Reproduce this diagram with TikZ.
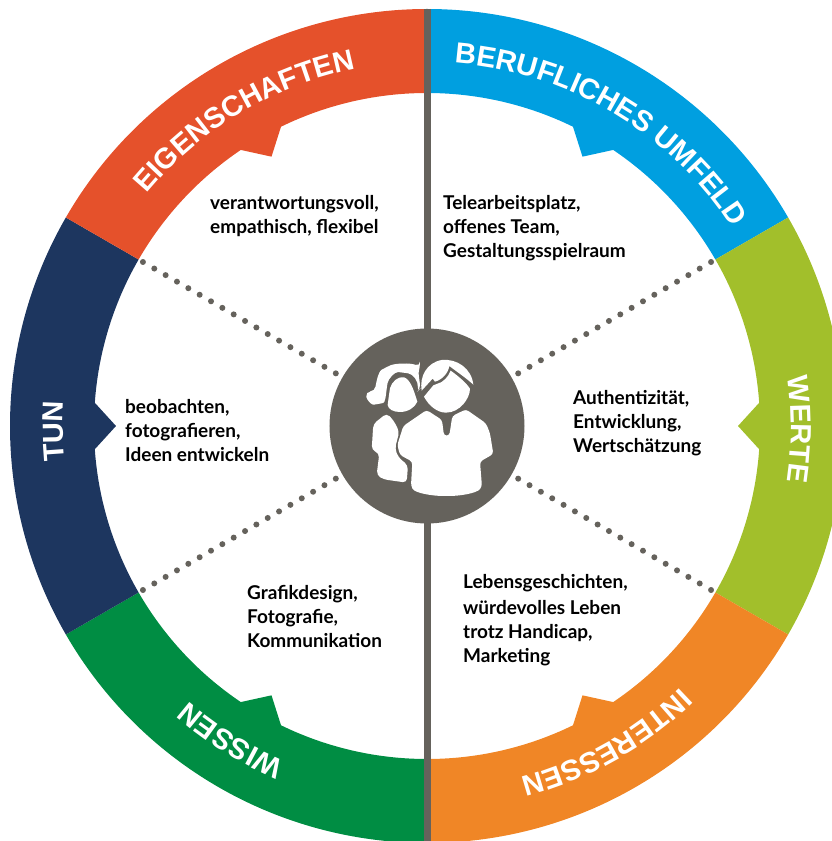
\documentclass[tikz,border=0pt]{standalone}
\usepackage{fontspec}
\setmainfont{Lato}
\newfontfamily\ringfont{Liberation Sans}[Scale=1]
\usetikzlibrary{decorations.text,calc}
\definecolor{cred}{HTML}{E5512B}
\definecolor{cblue}{HTML}{009FE0}
\definecolor{clime}{HTML}{A2BF2B}
\definecolor{corange}{HTML}{F08626}
\definecolor{cgreen}{HTML}{008D43}
\definecolor{cnavy}{HTML}{1D365F}
\definecolor{cgray}{HTML}{65625C}
\tikzset{
  notetext/.style={align=left,anchor=north west,inner sep=0pt,font=\fontsize{19}{24}\selectfont\bfseries,text=black},
  dotline/.style={cgray,line width=6pt,line cap=round,dash pattern=on 0pt off 13.1pt},
  spoke/.style={cgray,line width=6.6pt},
  iconwhite/.style={fill=white,draw=none},
}
\newcommand{\ringlabel}[3]{%
  \path[decorate,decoration={text along path,text align=center,
    text={|\ringfont\bfseries\fontsize{29}{29}\selectfont\color{white}|#1}}]
    (#2:364pt) arc[start angle=#2,end angle=#3,radius=364pt];}
\begin{document}
\begin{tikzpicture}[x=1pt,y=1pt]
\useasboundingbox (-427,-415) rectangle (405,426);
\clip (-427,-415) rectangle (405,426);
% ring segments: centre angle / colour
\foreach \ang/\col in {60/cblue,0/clime,-60/corange,-120/cgreen,180/cnavy,120/cred}{
  \fill[\col] (\ang+30:417) arc[start angle=\ang+30,end angle=\ang-30,radius=417]
    -- (\ang-30:333) arc[start angle=\ang-30,end angle=\ang-4,radius=333]
    -- (\ang:311) -- (\ang+4:333)
    arc[start angle=\ang+4,end angle=\ang+30,radius=333] -- cycle;
}
\ringlabel{BERUFLICHES UMFELD}{89.3}{29.3}
\ringlabel{WERTE}{29.5}{-30.5}
\ringlabel{INTERESSEN}{-30.5}{-90.5}
\ringlabel{WISSEN}{-92}{-152}
\ringlabel{TUN}{-149.2}{-209.2}
\ringlabel{EIGENSCHAFTEN}{150.8}{90.8}
% hub and spokes
\node[circle,fill=cgray,minimum size=195pt,inner sep=0pt] (hub) at (0,0) {};
\coordinate (top) at (0.3,417);
\coordinate (bottom) at (0.3,-417);
\draw[spoke] (top) -- (0.3,90);
\draw[spoke] (bottom) -- (0.3,-90);
\foreach \a in {30,150,210,330}{
  \coordinate (out\a) at (\a:328);
  \coordinate (in\a) at (\a:104);
  \draw[dotline] (out\a) -- (in\a);
}
% people icon
\begin{scope}[shift={(-107,106)},x=0.3333pt,y=-0.3333pt]
  % woman hair
  \fill[iconwhite,rounded corners=5pt] (300,140) .. controls (270,128) and (225,130) .. (198,142)
     .. controls (175,155) and (168,190) .. (165,214) -- (137,215)
     .. controls (140,240) and (155,255) .. (175,252)
     .. controls (195,248) and (198,225) .. (200,205)
     .. controls (205,175) and (225,155) .. (250,158)
     .. controls (280,162) and (295,185) .. (292,215) -- (302,205)
     .. controls (298,180) and (295,160) .. (300,140) -- cycle;
  % woman face
  \fill[iconwhite] (210,205) .. controls (215,185) and (235,168) .. (252,172)
     .. controls (270,178) and (280,205) .. (292,245)
     .. controls (285,262) and (265,276) .. (240,276)
     .. controls (220,276) and (205,268) .. (203,255)
     .. controls (205,240) and (207,225) .. (210,205) -- cycle;
  % woman body
  \fill[iconwhite,rounded corners=4pt] (160,312) -- (200,280) -- (220,300) -- (238,335)
     -- (225,385) -- (235,412) -- (264,436) -- (260,488) -- (190,478) -- (170,465)
     -- (178,400) -- (155,390) -- cycle;
  % man hair
  \fill[iconwhite] (305,212) .. controls (298,170) and (320,128) .. (365,120)
     .. controls (410,115) and (455,145) .. (460,194)
     .. controls (440,175) and (410,155) .. (388,138)
     .. controls (385,160) and (365,180) .. (345,185)
     -- (338,176) -- cycle;
  % man face
  \fill[iconwhite] (312,230) -- (340,196) -- (350,192)
     .. controls (370,188) and (385,170) .. (392,152)
     .. controls (415,168) and (440,190) .. (450,206)
     .. controls (450,235) and (420,278) .. (378,278)
     .. controls (350,278) and (325,255) .. (312,230) -- cycle;
  % man body
  \fill[iconwhite,rounded corners=3pt] (320,270) -- (366,300) -- (372,347) -- (388,347) -- (397,288)
     -- (438,268) -- (498,310) -- (510,340) -- (520,402) -- (480,425) -- (486,500)
     .. controls (470,520) and (420,528) .. (378,528)
     .. controls (340,528) and (285,520) .. (273,498)
     -- (277,425) -- (240,405) -- (232,375) -- (250,318) -- cycle;
\end{scope}
% notes (origin is the ring centre)
\node[notetext] (n1) at (-217,231) {verantwortungsvoll,\\empathisch, flexibel};
\node[notetext] (n2) at (16,231) {Telearbeitsplatz,\\offenes Team,\\Gestaltungsspielraum};
\node[notetext] (n3) at (146,36) {Authentizität,\\Entwicklung,\\Wertschätzung};
\node[notetext] (n4) at (-302,27) {beobachten,\\fotografieren,\\Ideen entwickeln};
\node[notetext] (n5) at (-180,-159) {Grafikdesign,\\Fotografie,\\Kommunikation};
\node[notetext] (n6) at (36,-148) {Lebensgeschichten,\\[2pt]würdevolles Leben\\trotz Handicap,\\Marketing};
\end{tikzpicture}
\end{document}
